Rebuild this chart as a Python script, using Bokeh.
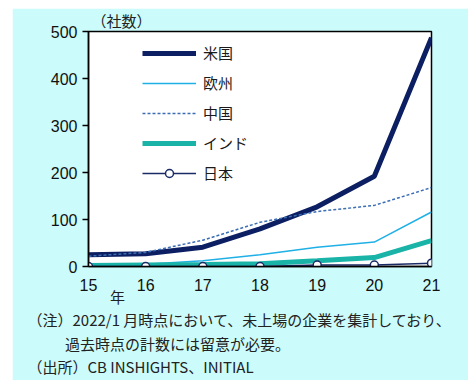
from bokeh.plotting import figure
from bokeh.models import Legend, LegendItem, Title, FixedTicker, Range1d
from bokeh.embed import file_html
from bokeh.resources import INLINE

years = [15, 16, 17, 18, 19, 20, 21]
year_labels = ["15", "16", "17", "18", "19", "20", "21"]
usa = [25, 27, 41, 80, 127, 192, 487]
europe = [3, 5, 12, 25, 41, 52, 116]
china = [22, 30, 56, 94, 117, 130, 168]
india = [2, 3, 4, 6, 12, 19, 55]
japan = [0, 0, 0, 0, 3, 3, 7]
y_ticks = [0, 100, 200, 300, 400, 500]
series_names = ["米国", "欧州", "中国", "インド", "日本"]
unit_text = "（社数）"
x_title = "年"
note_1 = "（注）2022/1 月時点において、未上場の企業を集計しており、"
note_2 = "過去時点の計数には留意が必要。"
source = "（出所）CB INSHIGHTS、INITIAL"

BG = "#ccfbfb"
p = figure(frame_width=343, frame_height=235, output_backend="svg",
           toolbar_location=None,
           x_range=Range1d(15, 21), y_range=Range1d(0, 500),
           min_border_left=76, min_border_right=37, min_border_top=23,
           min_border_bottom=114)
p.margin = (8, 0, 0, 12)
p.border_fill_color = BG
p.background_fill_color = "white"
p.outline_line_color = "black"
p.outline_line_width = 1.5
p.xgrid.visible = False
p.ygrid.visible = False

p.yaxis.ticker = FixedTicker(ticks=y_ticks)
p.yaxis.major_tick_out = 6
p.yaxis.major_tick_in = 0
p.yaxis.minor_tick_line_color = None
p.yaxis.major_label_standoff = 5
p.xaxis.ticker = FixedTicker(ticks=years)
p.xaxis.major_label_overrides = {y: l for y, l in zip(years, year_labels)}
p.xaxis.major_tick_out = 0
p.xaxis.major_tick_in = 0
p.xaxis.minor_tick_line_color = None
p.xaxis.major_label_standoff = 12
for ax in (p.xaxis, p.yaxis):
    ax.axis_line_color = "black"
    ax.axis_line_width = 1.5
    ax.major_tick_line_color = "black"
    ax.major_tick_line_width = 1.5
    ax.major_label_text_font = "Liberation Sans"
    ax.major_label_text_font_size = "16px"
    ax.major_label_text_color = "#111111"

r_us = p.line(years, usa, line_color="#0c1f63", line_width=5)
r_eu = p.line(years, europe, line_color="#1fb0e6", line_width=1.5)
r_cn = p.line(years, china, line_color="#3c6eb4", line_width=1.5, line_dash="3 2")
r_in = p.line(years, india, line_color="#19b3a8", line_width=5)
r_jp = p.line(years, japan, line_color="#1a2a66", line_width=1.5)
r_jpm = p.scatter(years, japan, size=8, fill_color="white", line_color="#1a2a66",
                  line_width=1.5)

items = [LegendItem(label=series_names[0], renderers=[r_us]),
         LegendItem(label=series_names[1], renderers=[r_eu]),
         LegendItem(label=series_names[2], renderers=[r_cn]),
         LegendItem(label=series_names[3], renderers=[r_in]),
         LegendItem(label=series_names[4], renderers=[r_jp, r_jpm])]
legend = Legend(items=items, location=(54, 83), padding=0, margin=0,
                border_line_alpha=0, background_fill_alpha=0,
                glyph_width=54, glyph_height=20, spacing=9, label_standoff=7,
                label_text_font="Noto Sans CJK JP", label_text_font_size="15px",
                label_text_color="#1a1a1a")
p.add_layout(legend)

p.title = Title(text=unit_text, align="left", offset=3, standoff=-1,
                vertical_align="middle",
                text_font="Noto Sans CJK JP", text_font_size="15px",
                text_font_style="normal", text_color="#222222")

IDS = "\u3000"   # ideographic space (not collapsed in SVG)
ENS = "\u2002"   # en space
bottom_text = "\n".join([IDS * 5 + ENS + x_title,
                         note_1,
                         IDS * 2 + ENS + note_2,
                         source])
p.add_layout(Title(text=bottom_text, align="left", offset=-61, standoff=-20,
                   text_font="Noto Sans CJK JP", text_font_size="15px",
                   text_font_style="normal", text_color="#222222",
                   text_line_height=1.12), "below")

open("out.html", "w").write(file_html(p, INLINE))
